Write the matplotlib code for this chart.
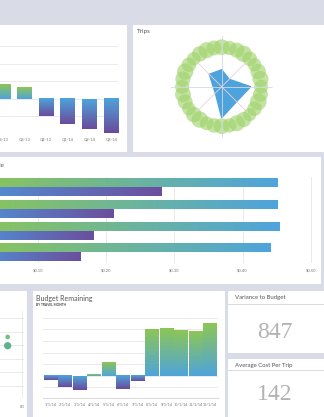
import numpy as np
import matplotlib
matplotlib.use('Agg')
import matplotlib.pyplot as plt
from matplotlib.patches import Rectangle
from matplotlib.colors import LinearSegmentedColormap

# ---- data ----
quarters = ['Q2-13', 'Q3-13', 'Q4-13', 'Q1-14', 'Q2-14', 'Q3-14']
quarter_vals = [0.84, 0.67, -1.0, -1.45, -1.7, -1.96]

trip_axes = ['N', 'NE', 'E', 'SE', 'S', 'SW', 'W', 'NW']
trip_vals = [17, 10.5, 29, 21, 31, 9, 8.5, 17.5]
ring_sizes = [130, 105, 120, 140, 110, 95, 125, 135, 100, 115, 145, 110,
              90, 120, 135, 105, 130, 110, 100, 140, 125, 95, 115, 130,
              105, 120, 140, 110, 95, 125, 135, 115]

cost_green = [0.451, 0.451, 0.454, 0.441]
cost_purple = [0.281, 0.210, 0.181, 0.162]
cost_ticks = [0.1, 0.2, 0.3, 0.4, 0.5]
cost_tick_labels = ['$0.10', '$0.20', '$0.30', '$0.40', '$0.50']

scatter_x = [66, 66]
scatter_y = [3.6, 2.95]
scatter_s = [11, 28]

months = ['1/1/14', '2/1/14', '3/1/14', '4/1/14', '5/1/14', '6/1/14',
          '7/1/14', '8/1/14', '9/1/14', '10/1/14', '11/1/14', '12/1/14']
budget = [-0.35, -1.0, -1.2, 0.15, 1.2, -1.15, -0.45, 4.0, 4.1, 3.95, 3.85, 4.55]

variance = '847'
avg_cost = '142'

GREEN = '#8dc655'
BLUE = '#4ea4dc'
PURPLE = '#6b4a9b'
GRID = '#e6e6e6'
TXT = '#777777'

W, H = 324, 417
fig = plt.figure(figsize=(W / 100, H / 100), dpi=100)
fig.patch.set_facecolor('#d9dbe6')
plt.rcParams['font.family'] = ['Lato', 'DejaVu Sans']


def box(x0, y0, x1, y1):
    return [x0 / W, 1 - y1 / H, (x1 - x0) / W, (y1 - y0) / H]


def panel(x0, y0, x1, y1):
    fig.add_artist(Rectangle((x0 / W, 1 - y1 / H), (x1 - x0) / W, (y1 - y0) / H,
                             transform=fig.transFigure, facecolor='white',
                             edgecolor='none', zorder=-1))


def ftext(x, y, s, **kw):
    fig.text(x / W, 1 - y / H, s, **kw)


def grad(ax, rect, c0, c1, horizontal=False):
    x, y, w, h = rect.get_x(), rect.get_y(), rect.get_width(), rect.get_height()
    cmap = LinearSegmentedColormap.from_list('g', [c0, c1])
    if horizontal:
        img = np.linspace(0, 1, 256).reshape(1, -1)
    else:
        img = np.linspace(0, 1, 256).reshape(-1, 1)
    ax.imshow(img, extent=(x, x + w, min(y, y + h), max(y, y + h)), origin='lower',
              cmap=cmap, aspect='auto', zorder=2, interpolation='bilinear')
    rect.set_visible(False)


def clean(ax):
    for s in ax.spines.values():
        s.set_visible(False)
    ax.set_facecolor('none')
    ax.tick_params(length=0, labelsize=3, labelcolor=TXT)


# panels
panel(0, 25, 127, 152)
panel(133, 25, 324, 152)
panel(0, 157, 321, 284)
panel(0, 291, 27, 417)
panel(33, 291, 225, 417)
panel(228, 291, 324, 353)
panel(228, 359, 324, 417)

# ---- top-left quarterly bars ----
ax1 = fig.add_axes(box(0, 35, 118, 135))
clean(ax1)
bars = ax1.bar(range(len(quarters)), quarter_vals, width=0.69)
for b, v in zip(bars, quarter_vals):
    if v >= 0:
        grad(ax1, b, BLUE, GREEN)
    else:
        grad(ax1, b, PURPLE, BLUE)
ax1.set_xticks(range(len(quarters)))
ax1.set_xticklabels(quarters)
ax1.set_yticks([-1, 0, 1, 2, 3])
ax1.yaxis.grid(True, color=GRID, lw=0.6)
ax1.set_axisbelow(True)
ax1.tick_params(axis='y', labelleft=False)
ax1.tick_params(axis='x', pad=2)
ax1.set_xlim(-0.124, 5.31)
ax1.set_ylim(-2.07, 3.64)

# ---- Trips radar ----
ftext(137, 32, 'Trips', fontsize=4.5, color='#555555', va='center')
ax2 = fig.add_axes(box(170.7, 35.7, 272.7, 137.7), projection='polar')
ax2.set_theta_zero_location('N')
ax2.set_theta_direction(-1)
ax2.axis('off')
ang = np.linspace(0, 2 * np.pi, len(trip_vals), endpoint=False)
ring_ang = np.linspace(0, 2 * np.pi, len(ring_sizes), endpoint=False)
ax2.scatter(ring_ang, [39.5] * len(ring_sizes), s=ring_sizes, color='#9fd26a',
            alpha=0.62, edgecolors='none', zorder=1)
ax2.fill(np.append(ang, ang[0]), np.append(trip_vals, trip_vals[0]),
         color='#4fa3dd', zorder=2)
for i, a in enumerate(ang):
    if i % 2 == 0:
        ax2.plot([a, a], [0, 51], color='#cfd8e4', lw=0.6, zorder=3)
    else:
        ax2.plot([a, a], [0, 34], color='#e6d3da', lw=0.6, zorder=3)
ax2.set_ylim(0, 51)

# ---- middle horizontal bars ----
ftext(4, 165, 'Average Cost Per Mile', fontsize=4.5, color='#555555',
      va='center', ha='right')
ax3 = fig.add_axes(box(0, 177, 312, 263))
clean(ax3)
idx = np.arange(len(cost_green))
gb = ax3.barh(idx - 0.207, cost_green, height=0.39)
pb = ax3.barh(idx + 0.207, cost_purple, height=0.39)
for b in gb:
    grad(ax3, b, GREEN, BLUE, horizontal=True)
for b in pb:
    grad(ax3, b, '#4f95d8', '#6c4e9e', horizontal=True)
ax3.set_xticks(cost_ticks)
ax3.set_xticklabels(cost_tick_labels)
ax3.set_yticks([])
ax3.xaxis.grid(True, color=GRID, lw=0.6)
ax3.set_axisbelow(True)
ax3.tick_params(axis='x', pad=3.6)
ax3.set_xlim(0.0441, 0.502)
ax3.set_ylim(3.484, -0.484)

# ---- bottom-left scatter ----
ax4 = fig.add_axes(box(-60, 311, 24, 398))
clean(ax4)
ax4.scatter(scatter_x, scatter_y, s=scatter_s, color=['#72c07f', '#5bb48d'],
            edgecolors='none', zorder=3)
ax4.set_xticks([80])
ax4.set_yticks([0, 1, 2, 3, 4, 5])
ax4.grid(True, color=GRID, lw=0.6)
ax4.tick_params(axis='y', labelleft=False)
ax4.tick_params(axis='x', pad=5)
ax4.set_xlim(0, 81.95)
ax4.set_ylim(-0.92, 5.52)

# ---- Budget Remaining ----
ftext(36, 298, 'Budget Remaining', fontsize=5, color='#555555', va='center')
ftext(36, 305, 'BY TRAVEL MONTH', fontsize=2.3, color='#444444', va='center',
      fontweight='bold')
ax5 = fig.add_axes(box(43, 312, 218, 398))
clean(ax5)
bb = ax5.bar(range(len(months)), budget, width=0.9)
for b, v in zip(bb, budget):
    if v >= 0:
        grad(ax5, b, BLUE, GREEN)
    else:
        grad(ax5, b, PURPLE, BLUE)
ax5.set_xticks(range(len(months)))
ax5.set_xticklabels(months, fontsize=2.7)
ax5.set_yticks([-1, 0, 1, 2, 3, 4, 5])
ax5.yaxis.grid(True, color=GRID, lw=0.6)
ax5.set_axisbelow(True)
ax5.tick_params(axis='y', labelleft=False)
ax5.tick_params(axis='x', pad=3.6)
ax5.spines['bottom'].set_visible(True)
ax5.spines['bottom'].set_color('#dcdcdc')
ax5.spines['bottom'].set_linewidth(0.8)
ax5.set_xlim(-0.517, 11.55)
ax5.set_ylim(-1.91, 5.5)

# ---- KPI tiles ----
for y_title, y_line, y_num, title, num in [(298, 304, 332, 'Variance to Budget', variance),
                                          (365, 370, 395, 'Average Cost Per Trip', avg_cost)]:
    ftext(235, y_title, title, fontsize=4.3, color='#555555', va='center')
    fig.add_artist(plt.Line2D([228 / W, 1], [1 - y_line / H, 1 - y_line / H],
                              transform=fig.transFigure, color='#d5d5d5', lw=0.6))
    ftext(275, y_num, num, fontsize=17, color='#b3b3b3', va='center', ha='center',
          family=['Liberation Serif', 'DejaVu Serif'])

fig.savefig('out.png', dpi=100, facecolor=fig.get_facecolor())
